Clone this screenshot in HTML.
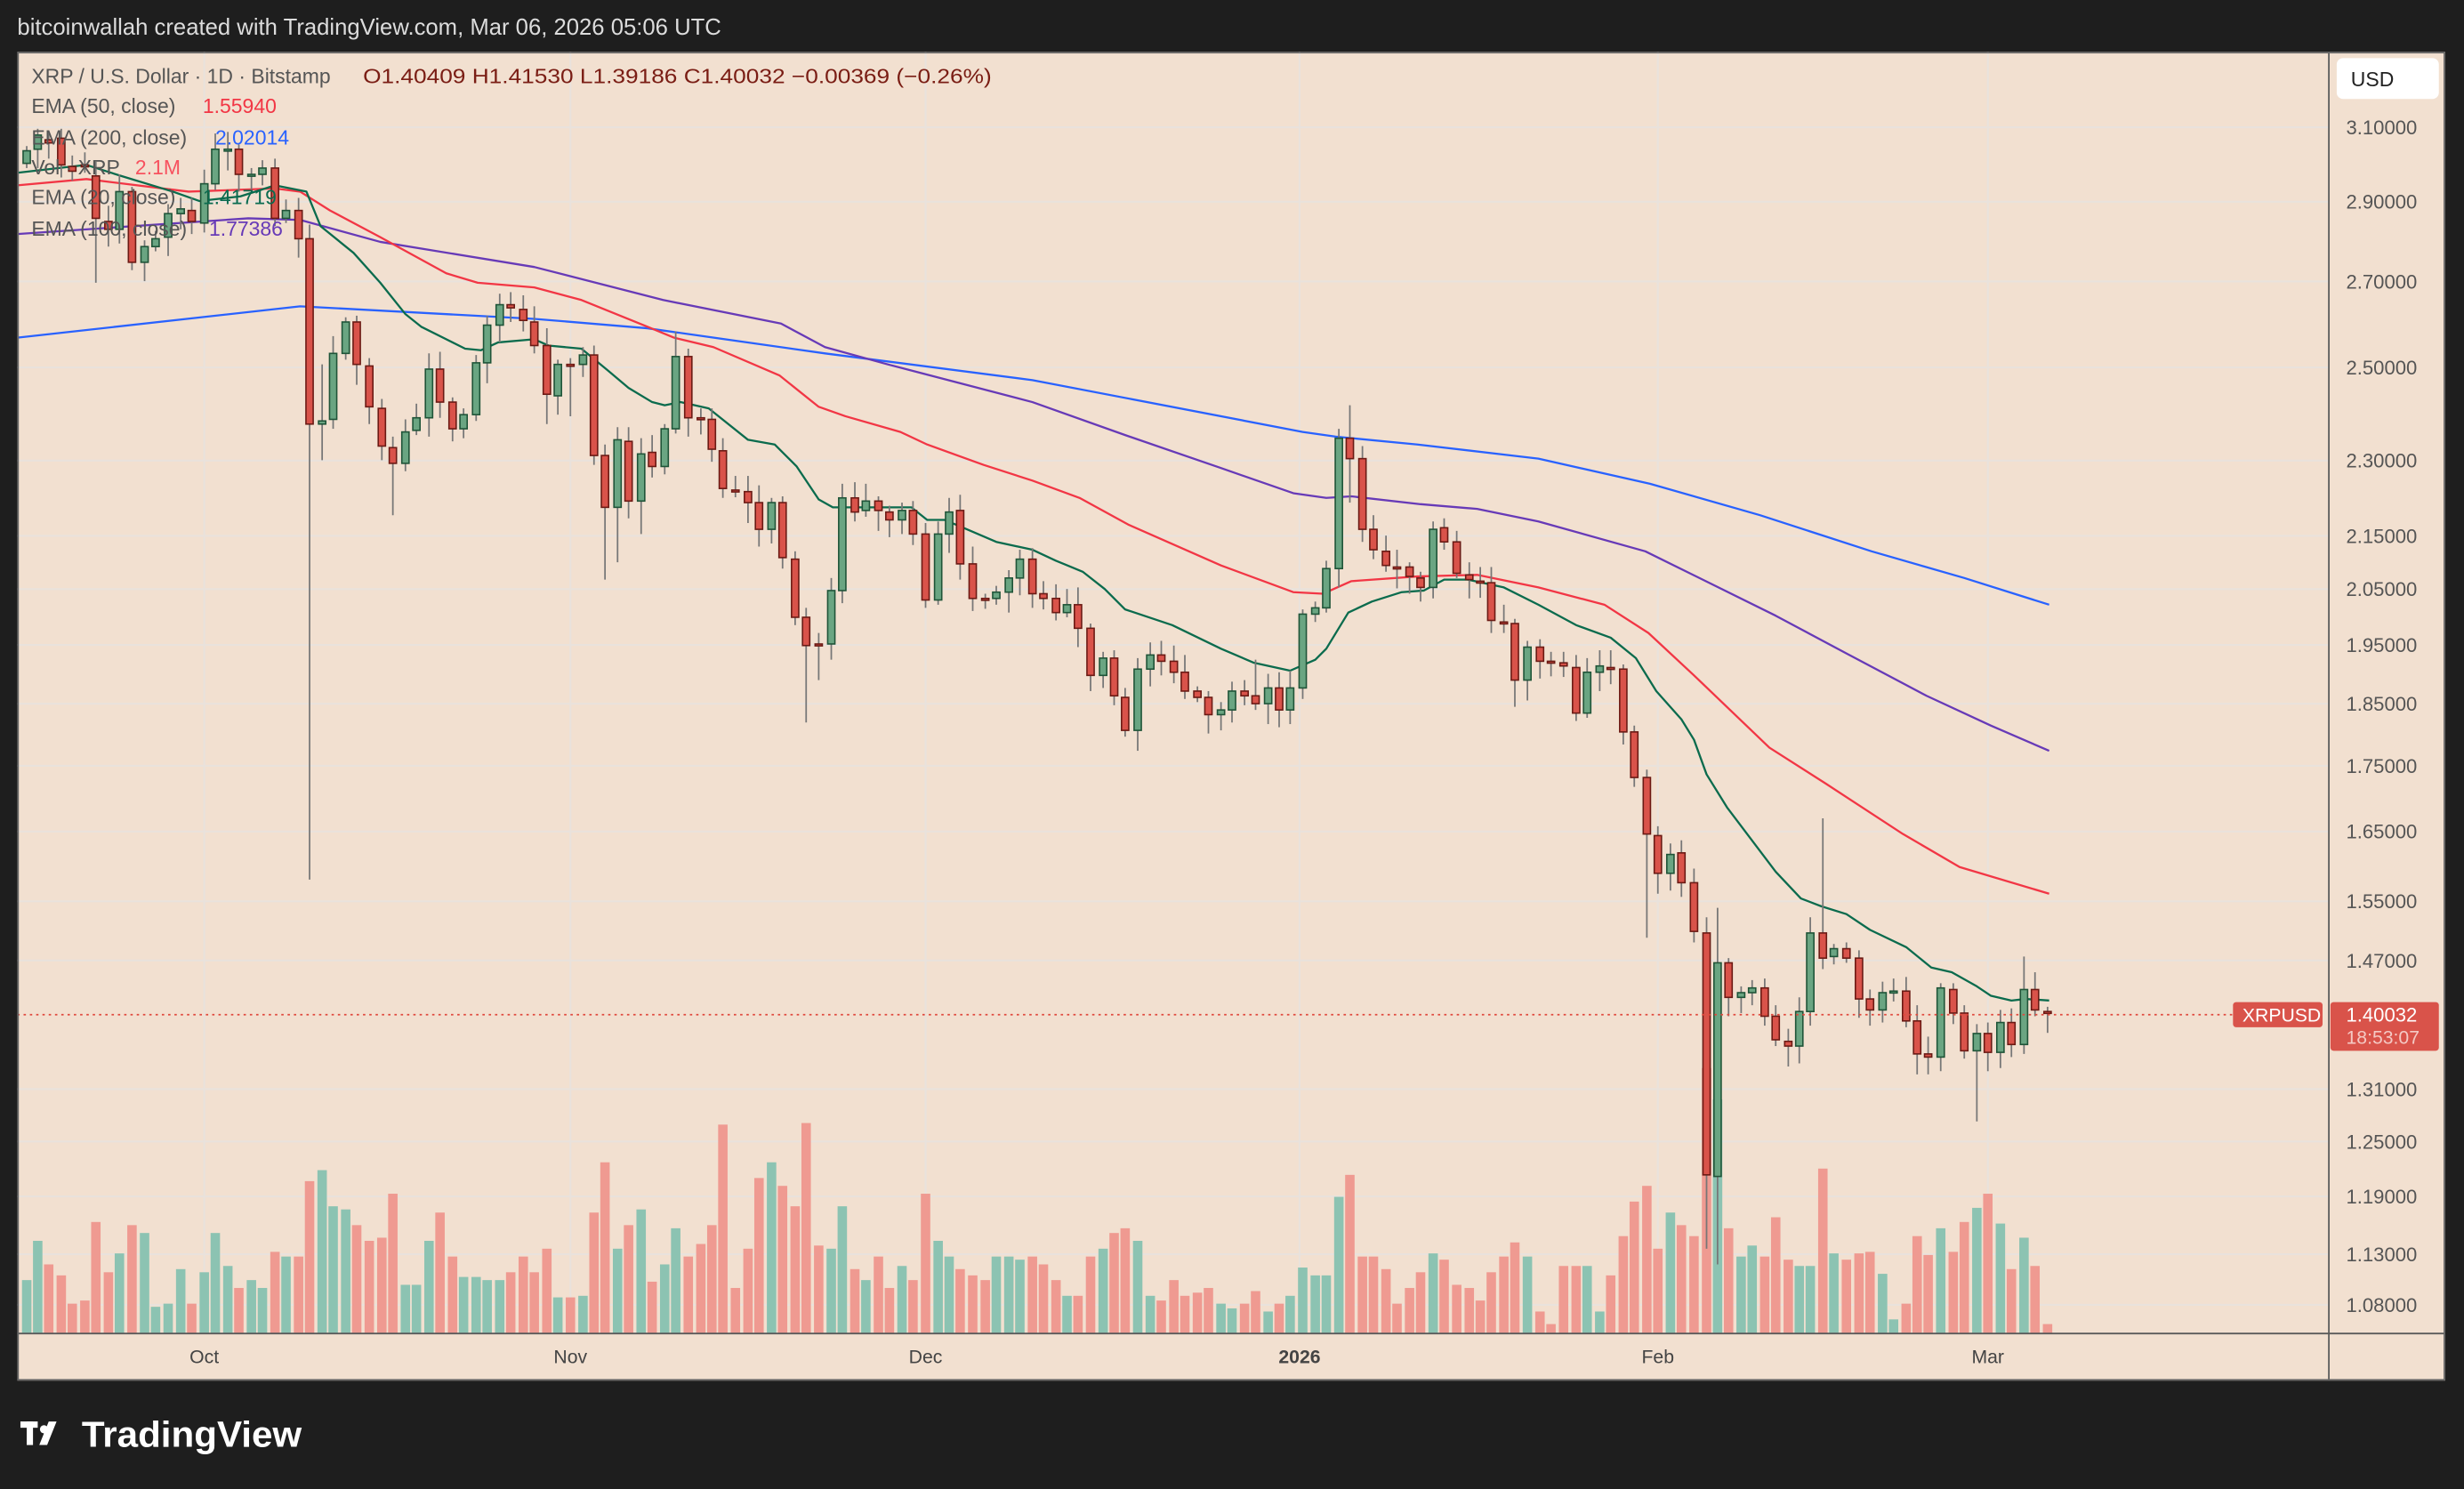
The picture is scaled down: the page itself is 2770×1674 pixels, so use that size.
<!DOCTYPE html>
<html><head><meta charset="utf-8"><style>
html,body{margin:0;padding:0;background:#1e1e1e;}
svg{display:block;}
text{font-family:"Liberation Sans",sans-serif;}
</style></head><body>
<svg id="s" width="2770" height="1674" viewBox="0 0 1568 948" preserveAspectRatio="none" xmlns="http://www.w3.org/2000/svg">
<rect x="0" y="0" width="1568" height="948" fill="#1e1e1e"/>
<text x="11" y="22" font-size="14.5" fill="#dcdcdc" textLength="448" lengthAdjust="spacingAndGlyphs">bitcoinwallah created with TradingView.com, Mar 06, 2026 05:06 UTC</text>
<rect x="11" y="33" width="1545" height="846" fill="#f2e0d0"/>
<g id="grid"></g>
<g id="vol"></g>
<g id="ema"></g>
<g id="cnd"></g>
<line x1="11" y1="646" x2="1421" y2="646" stroke="#e0493e" stroke-width="1" stroke-dasharray="1.5,2.5"/>
<g font-size="13" fill="#555">
<text x="20" y="53">XRP / U.S. Dollar · 1D · Bitstamp</text>
<text x="231" y="53" fill="#7a1d14" textLength="400" lengthAdjust="spacingAndGlyphs">O1.40409  H1.41530  L1.39186  C1.40032  −0.00369 (−0.26%)</text>
<text x="20" y="72">EMA (50, close)</text><text x="129" y="72" fill="#f23645">1.55940</text>
<text x="20" y="92">EMA (200, close)</text><text x="137" y="92" fill="#2962ff">2.02014</text>
<text x="20" y="111">Vol · XRP</text><text x="86" y="111" fill="#f7525f">2.1M</text>
<text x="20" y="130">EMA (20, close)</text><text x="129" y="130" fill="#0b6b4f">1.41719</text>
<text x="20" y="150">EMA (100, close)</text><text x="133" y="150" fill="#673ab7">1.77386</text>
</g>
<line x1="1482" y1="33" x2="1482" y2="879" stroke="#5a5a5a" stroke-width="1"/>
<line x1="11" y1="849" x2="1556" y2="849" stroke="#5a5a5a" stroke-width="1"/>
<rect x="11.5" y="33.5" width="1544" height="845" fill="none" stroke="#666" stroke-width="1"/>
<rect x="1487" y="37" width="65" height="26" rx="4" fill="#ffffff"/>
<text x="1496" y="55" font-size="13" fill="#222">USD</text>
<g id="axis" font-size="12.5" fill="#555"></g>
<g font-size="12" fill="#444">
<text x="130" y="868" text-anchor="middle">Oct</text>
<text x="363" y="868" text-anchor="middle">Nov</text>
<text x="589" y="868" text-anchor="middle">Dec</text>
<text x="827" y="868" text-anchor="middle" font-weight="bold">2026</text>
<text x="1055" y="868" text-anchor="middle">Feb</text>
<text x="1265" y="868" text-anchor="middle">Mar</text>
</g>
<rect x="1421" y="638" width="57" height="16" rx="2" fill="#d9534a"/>
<text x="1427" y="650.5" font-size="12" fill="#fff">XRPUSD</text>
<rect x="1483" y="638" width="69" height="31" rx="2" fill="#d9534a"/>
<text x="1493" y="650.5" font-size="12.5" fill="#fff">1.40032</text>
<text x="1493" y="664.5" font-size="12" fill="#f4c9c4">18:53:07</text>
<g fill="#ffffff">
<rect x="13" y="905" width="11" height="4"/><rect x="17" y="905" width="4" height="15"/>
<circle cx="28" cy="910" r="2.6"/>
<polygon points="31,905 36,905 30,920 25,920"/>
<text x="52" y="921" font-size="23" font-weight="bold" textLength="140" lengthAdjust="spacingAndGlyphs">TradingView</text>
</g>
</svg>
<script>
function Y(p){return 81+(Math.log(3.1)-Math.log(p))*711;}
var g=document.getElementById('grid'),ax=document.getElementById('axis');
var ticks=[3.1,2.9,2.7,2.5,2.3,2.15,2.05,1.95,1.85,1.75,1.65,1.55,1.47,1.31,1.25,1.19,1.13,1.08];
var h='';
ticks.forEach(function(p){var y=Y(p);h+='<line x1="11" x2="1482" y1="'+y+'" y2="'+y+'" stroke="#e9e2dc" stroke-width="1.2"/>';});
[130,363,589,827,1055,1265].forEach(function(x){h+='<line x1="'+x+'" x2="'+x+'" y1="33" y2="849" stroke="#e9e2dc" stroke-width="1.2"/>';});
g.innerHTML=h;
h='';ticks.forEach(function(p){h+='<text x="1493" y="'+(Y(p)+4.5)+'">'+p.toFixed(5)+'</text>';});ax.innerHTML=h;
var C=[[17,104,96],[24,95,86],[31,89,91],[39,88,105],[46,106,109],[54,105,106],[61,112,139,0,180],[69,141,146],[76,146,122],[84,122,167,0,172],[92,167,157,0,179],[99,157,152],[107,151,136],[115,136,133],[122,134,141],[130,142,117],[137,117,95],[145,95.5,95],[152,95,111],[160,111.5,111],[167,111,107],[175,107,139],[182,139,134],[190,134,152],[197,152,270,143,560],[205,270,268,232,293],[212,267,225],[220,225,205],[227,205,232],[235,233,259],[243,260,284],[250,285,295,0,328],[258,295,275],[265,274,266],[273,266,235],[280,235,256],[288,256,273],[295,273,264],[303,264,231],[310,231,207],[318,207,194],[325,194,196],[333,197,204],[340,205,220],[348,220,251,0,270],[355,252,232],[363,232,232.6,0,265],[371,232,226],[378,226,290],[385,290,323,0,369],[393,323,280,0,358],[400,281,319],[408,319,289,0,340],[415,288,297],[423,297,273],[430,273,227,211],[438,227,266],[446,266,266.6],[453,267,286],[460,287,311],[468,312,312.6],[476,313,320],[483,320,337],[491,337,320],[498,320,355],[506,356,393],[513,393,411,0,460],[521,410,410.6,0,433],[529,410,376],[536,376,317],[544,317,326],[551,325,319],[559,319,325],[566,326,331],[574,331,325],[581,325,340],[589,340,382],[597,382,340],[604,340,326],[611,325,359],[619,359,381],[627,381,381.6],[634,381,377],[642,377,368],[649,368,356],[657,356,378],[664,378,381],[672,381,390],[679,390,385],[686,385,400],[694,400,430],[702,430,419],[709,419,443],[716,444,465],[724,465,426,0,478],[732,426,417],[739,417,421],[747,421,428],[754,428,440],[762,440,444],[769,444,455],[777,455,452],[784,452,440],[792,440,443],[799,443,448,420],[807,448,438],[814,438,452],[821,452,438],[829,438,391],[837,391,387],[844,387,362],[852,362,279,273],[859,279,292,258,320],[867,292,337],[874,337,350],[882,351,360],[889,361,361.6],[897,361,367],[904,368,374],[912,374,337],[919,336,345],[927,345,365],[935,366,369],[942,370,370.6],[949,371,395],[957,396,397],[964,397,433,0,450],[972,433,412],[980,412,421],[987,421,421.6],[995,422,424],[1003,425,454],[1010,454,428],[1018,428,424],[1025,425,425.6],[1033,426,466],[1040,466,495],[1048,495,531,0,597],[1055,532,556],[1063,556,544],[1070,543,562],[1078,562,593],[1086,594,748,0,795],[1093,749,613,578,805],[1100,613,635],[1108,635,632],[1115,632,629],[1123,629,647],[1130,647,662],[1138,663,666],[1145,666,644],[1152,644,594],[1160,594,610,521],[1167,609,604],[1175,604,610],[1183,610,636],[1190,636,643],[1198,643,632],[1205,631.6,631],[1213,631,650],[1220,650,671],[1227,671,673],[1235,673,629],[1243,630,645],[1250,645,669],[1258,669,658,0,714],[1265,658,670],[1273,670,651],[1280,651,665],[1288,665,630,609],[1295,630,643],[1303,644,644.6]];
var V={17:815,24:790,31:805,39:812,46:830,54:828,61:778,69:810,76:798,84:780,92:785,99:832,107:830,115:808,122:830,130:810,137:785,145:806,152:820,160:815,167:820,175:797,182:800,190:800,197:752,205:745,212:768,220:770,227:780,235:790,243:788,250:760,258:818,265:818,273:790,280:772,288:800,295:813,303:813,310:815,318:815,325:810,333:800,340:810,348:795,355:826,363:826,371:825,378:772,385:740,393:795,400:780,408:770,415:816,423:805,430:782,438:800,446:792,453:780,460:716,468:820,476:795,483:750,491:740,498:755,506:768,513:715,521:793,529:795,536:768,544:808,551:815,559:800,566:820,574:806,581:815,589:760,597:790,604:800,611:808,619:812,627:815,634:800,642:800,649:802,657:800,664:805,672:815,679:825,686:825,694:800,702:795,709:785,716:782,724:790,732:825,739:828,747:815,754:825,762:823,769:820,777:830,784:833,792:830,799:822,807:835,814:830,821:825,829:807,837:812,844:812,852:762,859:748,867:800,874:800,882:808,889:830,897:820,904:810,912:798,919:802,927:818,935:820,942:828,949:810,957:800,964:791,972:800,980:835,987:843,995:806,1003:806,1010:806,1018:835,1025:812,1033:787,1040:765,1048:755,1055:795,1063:772,1070:780,1078:787,1086:680,1093:700,1100:782,1108:800,1115:793,1123:800,1130:775,1138:802,1145:806,1152:806,1160:744,1167:798,1175:802,1183:798,1190:797,1198:811,1205:840,1213:830,1220:787,1227:799,1235:782,1243:797,1250:778,1258:769,1265:760,1273:779,1280:808,1288:788,1295:806,1303:843};
var hv='',hc='';
C.forEach(function(c,i){
 var x=c[0],o=c[1],cl=c[2],up=cl<o;
 var top=Math.min(o,cl),bot=Math.max(o,cl);
 var hi=c[3]||top-(3+(i*37)%9),lo=c[4]||bot+(3+(i*53)%11);
 var v=V[x]||820;
 hv+='<rect x="'+(x-3)+'" y="'+v+'" width="6" height="'+(849-v)+'" fill="'+(up?'#8cc3b2':'#ef9a91')+'"/>';
 hc+='<line x1="'+x+'" x2="'+x+'" y1="'+hi+'" y2="'+lo+'" stroke="#777" stroke-width="1"/>';
 var bh=Math.max(bot-top,1.2);
 hc+='<rect x="'+(x-2.3)+'" y="'+top+'" width="4.6" height="'+bh+'" fill="'+(up?'#6aa582':'#d9534a')+'" stroke="'+(up?'#1f5438':'#6b1a14')+'" stroke-width="0.9"/>';
});
document.getElementById('vol').innerHTML=hv;
document.getElementById('cnd').innerHTML=hc;
function pl(pts,col,w){return '<polyline fill="none" stroke="'+col+'" stroke-width="'+w+'" stroke-linejoin="round" points="'+pts+'"/>';}
var e='';
e+=pl('11,215 191,195 340,203 412,209 525,225 657,242 829,275 850,278 902,283 979,292 1050,308 1120,328 1191,351 1250,368 1304,385','#2962ff',1.3);
e+=pl('11,149 158,139 191,140 242,154 340,170 422,191 497,206 525,221 565,232 588,238 657,256 716,277 777,298 823,314 844,317 860,316 904,321 940,324 979,332 1047,351 1130,392 1175,416 1226,443 1267,462 1304,478','#673ab7',1.3);
e+=pl('11,118 55,114 120,122 175,120 191,122 210,134 242,151 284,174 304,180 340,183 370,191 412,208 429,215 454,221 496,239 521,259 538,265 573,275 590,283 626,296 657,306 687,317 718,334 777,360 823,377 842,378 860,370 902,367 940,366 979,374 1021,385 1049,403 1078,430 1126,476 1162,499 1211,531 1247,552 1304,569','#f23645',1.3);
e+=pl('11,110 55,105 77,112 110,122 127,128 153,125 175,118 195,122 204,144 225,161 242,180 258,200 268,208 296,222 306,223 317,218 340,216 349,220 370,222 387,236 400,247 415,256 423,258 433,256 451,260 476,280 493,283 507,297 521,318 530,323 538,323 580,323 590,331 601,331 613,336 634,345 657,350 672,357 689,364 703,375 716,388 746,398 777,413 798,422 821,427 837,420 844,413 858,390 873,383 892,377 906,376 919,369 934,369 957,374 979,385 1003,398 1025,406 1041,419 1054,440 1070,458 1078,471 1086,493 1099,514 1130,555 1146,572 1159,577 1175,582 1190,592 1213,603 1229,616 1242,619 1258,628 1267,634 1280,637 1289,636 1304,637','#0b6b4d',1.3);
document.getElementById('ema').innerHTML=e;
</script>
</body></html>
